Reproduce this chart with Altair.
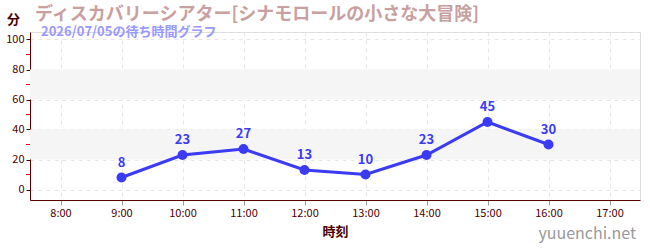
import altair as alt
import pandas as pd

hours = [9, 10, 11, 12, 13, 14, 15, 16]
waits = [8, 23, 27, 13, 10, 23, 45, 30]
band_lo = [20, 60]
band_hi = [40, 80]
minor_ticks = [10, 30, 50, 70, 90]
x_ticks = [8, 9, 10, 11, 12, 13, 14, 15, 16, 17]
y_ticks = [0, 20, 40, 60, 80, 100]

FONT = "Noto Sans CJK JP"
MAROON = "#4a0000"
BLUE = "#3b3bf5"

df = pd.DataFrame({"hour": hours, "wait": waits})
bands = pd.DataFrame({"lo": band_lo, "hi": band_hi})
minors = pd.DataFrame({"v": minor_ticks})

xscale = alt.Scale(domain=[7.5, 17.5], nice=False, zero=False)
yscale = alt.Scale(domain=[-7, 105], nice=False, zero=False)

xaxis = alt.Axis(values=x_ticks, labelExpr="datum.value + ':00'", title="時刻",
                 labelColor=MAROON, labelFontSize=11, labelFont=FONT, labelOverlap=False,
                 titleColor=MAROON, titleFont=FONT, titleFontSize=13, titleFontWeight="bold",
                 titlePadding=7, tickColor="#999999", tickSize=5, domainColor="#5a0000",
                 gridColor="#e6e6e6", gridDash=[4, 4], labelPadding=2)
yaxis = alt.Axis(values=y_ticks, title="分", titleAngle=0, titleX=-17, titleY=-6,
                 titleColor=MAROON, titleFont=FONT, titleFontSize=13, titleFontWeight="bold",
                 labelColor=MAROON, labelFontSize=11, labelFont=FONT, tickColor=MAROON,
                 labelOverlap=False, tickSize=4, domainColor="#5a0000",
                 gridColor="#e6e6e6", gridDash=[4, 4], labelPadding=2)

band_layer = alt.Chart(bands).mark_rect(color="#f5f5f5").encode(
    x=alt.value(0), x2=alt.value(610),
    y=alt.Y("lo:Q", scale=yscale, axis=yaxis), y2="hi:Q")

minor_layer = alt.Chart(minors).mark_rule(color="#e00000", strokeWidth=1).encode(
    x=alt.value(-4), x2=alt.value(0), y=alt.Y("v:Q", scale=yscale, axis=yaxis))

line = alt.Chart(df).mark_line(color=BLUE, strokeWidth=3).encode(
    x=alt.X("hour:Q", scale=xscale, axis=xaxis), y=alt.Y("wait:Q", scale=yscale, axis=yaxis))
points = alt.Chart(df).mark_circle(color=BLUE, size=100, opacity=1).encode(
    x=alt.X("hour:Q", scale=xscale, axis=xaxis), y=alt.Y("wait:Q", scale=yscale, axis=yaxis))
labels = alt.Chart(df).mark_text(color=BLUE, fontSize=13, fontWeight="bold", font=FONT,
                                 dy=-15).encode(
    x=alt.X("hour:Q", scale=xscale, axis=xaxis), y=alt.Y("wait:Q", scale=yscale, axis=yaxis),
    text="wait:Q")

sub_df = pd.DataFrame({"t": ["2026/07/05の待ち時間グラフ"]})
subtitle = alt.Chart(sub_df).mark_text(color="#9999ff", fontSize=13, fontWeight="bold",
                                       font=FONT, align="left", baseline="middle").encode(
    x=alt.value(11), y=alt.value(0), text="t:N")

mark_df = pd.DataFrame({"t": ["yuuenchi.net"]})
watermark = alt.Chart(mark_df).mark_text(color="#999999", fontSize=16, font=FONT,
                                         align="right", baseline="middle").encode(
    x=alt.value(606), y=alt.value(202), text="t:N")

chart = alt.layer(band_layer, minor_layer, line, points, labels, subtitle, watermark).properties(
    width=610, height=168,
    title=alt.TitleParams(text="ディスカバリーシアター[シナモロールの小さな大冒険]",
                          anchor="start", frame="group", font=FONT, fontSize=18,
                          fontWeight="bold", color="#c9a0a0", offset=-11, dx=5),
    autosize=alt.AutoSizeParams(type="none"),
    padding={"left": 30, "top": 32, "right": 10, "bottom": 50},
).configure_view(stroke=None).configure(background="white")

chart.save("out.html", embed_options={"renderer": "svg", "actions": False})
